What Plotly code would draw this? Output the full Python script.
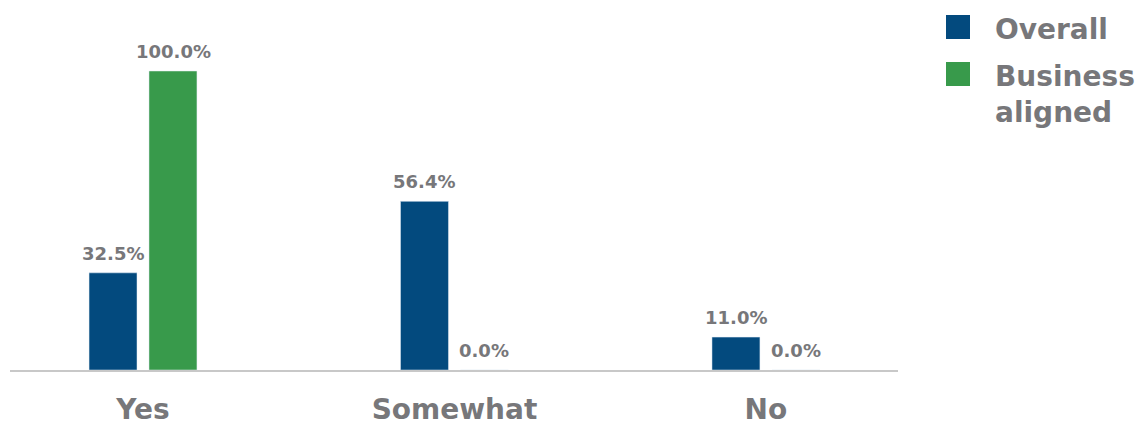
import plotly.graph_objects as go

categories = ["Yes", "Somewhat", "No"]
overall = [32.5, 56.4, 11.0]
business = [100.0, 0.0, 0.0]
series_names = ["Overall", "Business<br>aligned"]
colors = ["#034a7e", "#389a4b"]
grey = "#77777a"
FONT = "DejaVu Sans"

W, H = 1138, 426
fig = go.Figure()
offsets = [-30, 30]
for k, (vals, name, col) in enumerate(zip([overall, business], series_names, colors)):
    fig.add_trace(go.Bar(
        x=categories, y=vals, name=name, marker_color=col,
        cliponaxis=False, showlegend=False,
    ))
    for c, v in zip(categories, vals):
        fig.add_annotation(x=c, y=v, xref="x", yref="y", text=f"{v:.1f}%",
                           showarrow=False, xanchor="center", yanchor="bottom",
                           xshift=offsets[k], yshift=7,
                           font=dict(family=FONT, size=18, color=grey, weight="bold"))

# manual legend (large square swatches)
leg_y = [27, 74]
for i, (name, col) in enumerate(zip(series_names, colors)):
    yc = leg_y[i]
    fig.add_shape(type="rect", xref="paper", yref="paper",
                  x0=(946 - 10) / 888, x1=(970 - 10) / 888,
                  y0=(370 - (yc + 12)) / 350, y1=(370 - (yc - 12)) / 350,
                  line_width=0, fillcolor=col)
    fig.add_annotation(xref="paper", yref="paper",
                       x=(993 - 10) / 888, y=(370 - (yc - 16)) / 350,
                       xanchor="left", yanchor="top", align="left",
                       text=name, showarrow=False,
                       font=dict(family=FONT, size=28, color=grey, weight="bold"))

fig.update_layout(
    width=W, height=H,
    margin=dict(l=10, r=240, t=20, b=56),
    plot_bgcolor="white", paper_bgcolor="white",
    barmode="group", bargap=0.615, bargroupgap=0.2,
    font=dict(family=FONT, color=grey),
    xaxis=dict(range=[-0.427, 2.424], showline=True, linecolor="#c8c8c8",
               linewidth=2, showgrid=False, zeroline=False, ticks="",
               automargin=False,
               tickfont=dict(family=FONT, size=28, color=grey, weight="bold"),
               ticklabelstandoff=13),
    yaxis=dict(range=[0, 117.06], visible=False, showgrid=False, zeroline=False,
               automargin=False),
)
fig.write_html("out.html")
